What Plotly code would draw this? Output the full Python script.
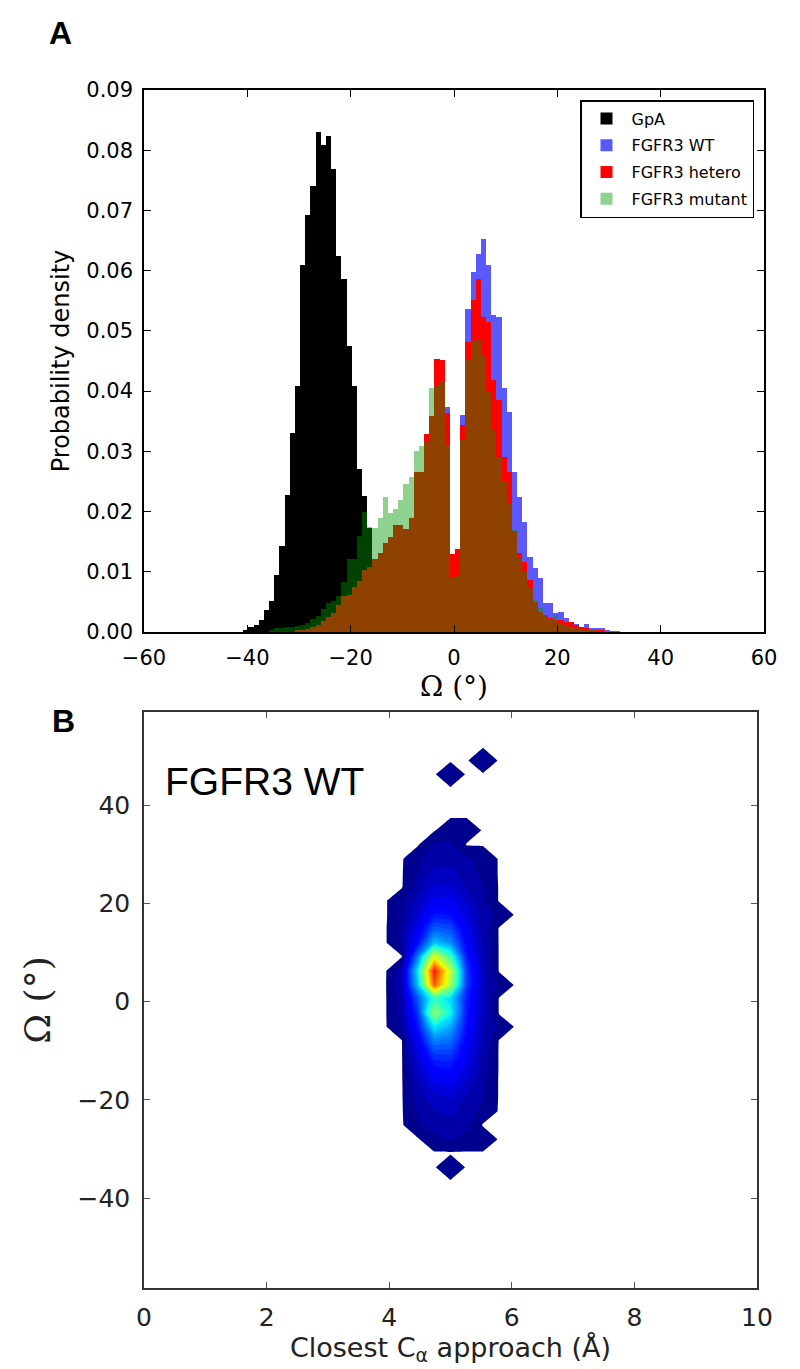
import plotly.graph_objects as go
import numpy as np

W, H = 800, 1369
PAGE_OFFSET = 8  # default body margin of the html page

# ---------------- Panel A: histogram data (probability density per 1-degree bin) ----------------
gpa_centers = [-40.3, -39.3, -38.3, -37.3, -36.3, -35.3, -34.3, -33.3, -32.3, -31.3,
               -30.3, -29.3, -28.3, -27.3, -26.3, -25.3, -24.3, -23.3, -22.3, -21.3,
               -20.3, -19.3, -18.3, -17.3, -16.3, -15.3, -14.3, -13.3, -12.3, -11.3, -10.3]
gpa_density = [0.0004, 0.0008, 0.0012, 0.0020, 0.0036, 0.0052, 0.0094, 0.0143, 0.0227, 0.0330,
               0.0409, 0.0609, 0.0693, 0.0741, 0.0831, 0.0808, 0.0824, 0.0768, 0.0624, 0.0587,
               0.0475, 0.0409, 0.0270, 0.0226, 0.0172, 0.0120, 0.0080, 0.0050, 0.0030, 0.0018, 0.0010]

fgfr3_centers = [-35.3, -34.3, -33.3, -32.3, -31.3, -30.3, -29.3, -28.3, -27.3, -26.3,
                 -25.3, -24.3, -23.3, -22.3, -21.3, -20.3, -19.3, -18.3, -17.3, -16.3,
                 -15.3, -14.3, -13.3, -12.3, -11.3, -10.3, -9.3, -8.3, -7.3, -6.3,
                 -5.3, -4.3, -3.3, -2.3, -1.3, -0.3, 0.7, 1.7, 2.7, 3.7,
                 4.7, 5.7, 6.7, 7.7, 8.7, 9.7, 10.7, 11.7, 12.7, 13.7,
                 14.7, 15.7, 16.7, 17.7, 18.7, 19.7, 20.7, 21.7, 22.7, 23.7,
                 24.7, 25.7, 26.7, 27.7, 28.7, 29.7, 30.7, 31.7]
wt_density = [0, 0, 0, 0, 0, 0.0001, 0.0002, 0.0003, 0.0006, 0.0010,
              0.0015, 0.0021, 0.0028, 0.0040, 0.0052, 0.0058, 0.0070, 0.0080, 0.0095, 0.0102,
              0.0115, 0.0125, 0.0140, 0.0150, 0.0168, 0.0170, 0.0165, 0.0182, 0.0255, 0.0258,
              0.0318, 0.0345, 0.0430, 0.0440, 0.0374, 0.0100, 0.0110, 0.0361, 0.0537, 0.0597,
              0.0628, 0.0652, 0.0609, 0.0527, 0.0523, 0.0405, 0.0366, 0.0266, 0.0225, 0.0182,
              0.0124, 0.0107, 0.0089, 0.0048, 0.0048, 0.0031, 0.0033, 0.0023, 0.0014, 0.0014,
              0.0009, 0.0013, 0.0006, 0.0007, 0.0006, 0.0003, 0.0002, 0.0002]
hetero_density = [0, 0, 0, 0, 0, 0.0003, 0.0004, 0.0005, 0.0008, 0.0012,
                  0.0018, 0.0025, 0.0031, 0.0045, 0.0059, 0.0062, 0.0075, 0.0084, 0.0103, 0.0108,
                  0.0121, 0.0132, 0.0147, 0.0158, 0.0178, 0.0178, 0.0171, 0.0190, 0.0266, 0.0266,
                  0.0329, 0.0358, 0.0453, 0.0452, 0.0364, 0.0129, 0.0138, 0.0343, 0.0482, 0.0551,
                  0.0587, 0.0523, 0.0514, 0.0418, 0.0385, 0.0291, 0.0266, 0.0167, 0.0131, 0.0117,
                  0.0086, 0.0050, 0.0034, 0.0028, 0.0023, 0.0020, 0.0020, 0.0017, 0.0017, 0.0012,
                  0.0009, 0.0006, 0.0004, 0.0003, 0.0002, 0, 0, 0]
mutant_density = [0.0004, 0.0007, 0.0007, 0.0008, 0.0009, 0.0010, 0.0012, 0.0015, 0.0021, 0.0027,
                  0.0039, 0.0048, 0.0052, 0.0059, 0.0083, 0.0122, 0.0122, 0.0160, 0.0199, 0.0175,
                  0.0172, 0.0190, 0.0225, 0.0198, 0.0205, 0.0219, 0.0245, 0.0258, 0.0300, 0.0309,
                  0.0316, 0.0406, 0.0410, 0.0416, 0.0311, 0.0090, 0.0095, 0.0319, 0.0451, 0.0482,
                  0.0485, 0.0460, 0.0400, 0.0335, 0.0290, 0.0250, 0.0215, 0.0170, 0.0125, 0.0100,
                  0.0075, 0.0055, 0.0040, 0.0028, 0.0022, 0.0028, 0.0014, 0.0010, 0.0008, 0.0006,
                  0.0005, 0.0004, 0.0003, 0.0002, 0, 0, 0, 0]
bin_width = 1.0

# ---------------- Panel B: 2D density grid (relative density, %) ----------------
approach_grid = [3.675, 3.94, 4.205, 4.47, 4.735, 5.0, 5.265, 5.53, 5.795, 6.06, 6.325]
omega_grid = [-36.6, -33.7, -30.8, -28.0, -25.1, -22.3, -19.4, -16.6, -13.7, -10.8,
              -8.0, -5.1, -2.3, 0.6, 3.4, 6.3, 9.2, 12.0, 14.9, 17.7,
              20.6, 23.4, 26.3, 29.1, 32.0, 34.9, 37.7, 40.6, 43.4, 46.3,
              49.1, 52.0]
density_grid = [
    [0, 0, 0, 0, 0, 0, 0, 0, 0, 0, 0],
    [0, 0, 0, 0, 0, 2, 0, 0, 0, 0, 0],
    [0, 0, 0, 0, 0, 0, 0, 0, 0, 0, 0],
    [0, 0, 0, 0, 2, 3, 2, 2, 0, 0, 0],
    [0, 0, 0, 2, 4, 4, 3, 0, 0, 0, 0],
    [0, 0, 0, 3, 5, 6, 4, 2, 0, 0, 0],
    [0, 0, 0, 4, 7, 8, 5, 3, 0, 0, 0],
    [0, 0, 0, 5, 10, 11, 7, 3, 0, 0, 0],
    [0, 0, 0, 7, 14, 15, 9, 4, 0, 0, 0],
    [0, 0, 0, 9, 20, 20, 11, 4, 0, 0, 0],
    [0, 0, 0, 12, 28, 26, 13, 5, 0, 0, 0],
    [0, 0, 3, 16, 40, 33, 15, 5, 2, 0, 0],
    [0, 0, 4, 20, 60, 42, 16, 6, 0, 0, 0],
    [0, 0, 4, 24, 46, 38, 17, 6, 0, 0, 0],
    [0, 0, 5, 36, 92, 62, 20, 6, 2, 0, 0],
    [0, 0, 4, 40, 100, 66, 20, 6, 0, 0, 0],
    [0, 0, 0, 28, 70, 48, 16, 5, 0, 0, 0],
    [0, 0, 3, 15, 36, 30, 13, 5, 0, 0, 0],
    [0, 0, 3, 11, 24, 22, 11, 4, 0, 0, 0],
    [0, 0, 2, 8, 16, 15, 9, 4, 2, 0, 0],
    [0, 0, 2, 6, 11, 11, 7, 3, 0, 0, 0],
    [0, 0, 0, 4, 8, 8, 5, 3, 0, 0, 0],
    [0, 0, 0, 3, 6, 6, 4, 2, 0, 0, 0],
    [0, 0, 0, 2, 4, 4, 3, 2, 0, 0, 0],
    [0, 0, 0, 0, 3, 3, 0, 0, 0, 0, 0],
    [0, 0, 0, 0, 0, 2, 2, 0, 0, 0, 0],
    [0, 0, 0, 0, 0, 0, 0, 0, 0, 0, 0],
    [0, 0, 0, 0, 0, 0, 0, 0, 0, 0, 0],
    [0, 0, 0, 0, 0, 0, 0, 0, 0, 0, 0],
    [0, 0, 0, 0, 0, 2, 0, 0, 0, 0, 0],
    [0, 0, 0, 0, 0, 0, 0, 2, 0, 0, 0],
    [0, 0, 0, 0, 0, 0, 0, 0, 0, 0, 0],
]

xa_ticks = [-60, -40, -20, 0, 20, 40, 60]
ya_ticks = [0.0, 0.01, 0.02, 0.03, 0.04, 0.05, 0.06, 0.07, 0.08, 0.09]
xb_ticks = [0, 2, 4, 6, 8, 10]
yb_ticks = [-40, -20, 0, 20, 40]


# ---------------- helpers (styling only) ----------------
def px_x(px):
    return (px - PAGE_OFFSET) / W


def px_y(py):
    return 1 - (py - PAGE_OFFSET) / H


def jet(t):
    def interp(pts, t):
        for (a, va), (b, vb) in zip(pts[:-1], pts[1:]):
            if a <= t <= b:
                return va + (vb - va) * (t - a) / (b - a)
        return pts[-1][1]
    r = interp([(0, 0), (0.35, 0), (0.66, 1), (0.89, 1), (1, 0.5)], t)
    g = interp([(0, 0), (0.125, 0), (0.375, 1), (0.64, 1), (0.91, 0), (1, 0)], t)
    b = interp([(0, 0.5), (0.11, 1), (0.34, 1), (0.65, 0), (1, 0)], t)
    return "rgb(%d,%d,%d)" % (round(r * 255), round(g * 255), round(b * 255))


c_start, c_size, n_levels = 0.2, 2.5, 40
c_end = c_start + c_size * (n_levels - 1)


def cpos(z):
    return ((z - c_start) / c_size + 0.5) / n_levels


colorscale = [[0.0, "white"], [cpos(c_start) - 1e-4, "white"]]
for z in np.linspace(c_start, c_start + (n_levels - 0.5) * c_size, 90):
    colorscale.append([cpos(z), jet(0.89 * min(z, 100) / 100)])
colorscale[-1][0] = 1.0

fig = go.Figure()

bar_specs = [
    (gpa_centers, gpa_density, "GpA", "black"),
    (fgfr3_centers, wt_density, "FGFR3 WT", "rgba(0,0,255,0.65)"),
    (fgfr3_centers, hetero_density, "FGFR3 hetero", "rgb(255,0,0)"),
    (fgfr3_centers, mutant_density, "FGFR3 mutant", "rgba(0,150,0,0.44)"),
]
for xs, ys, name, color in bar_specs:
    fig.add_trace(go.Bar(x=xs, y=ys, width=bin_width, name=name, legendgroup=name,
                         marker=dict(color=color, line=dict(width=0)),
                         xaxis="x", yaxis="y"))

fig.add_trace(go.Contour(
    x=approach_grid, y=omega_grid, z=density_grid,
    autocontour=False,
    contours=dict(start=c_start, end=c_end, size=c_size, coloring="fill", showlines=False),
    line=dict(width=0, smoothing=0),
    colorscale=colorscale, showscale=False, showlegend=False,
    hoverinfo="skip", xaxis="x2", yaxis="y2"))

axis_font = dict(family="DejaVu Sans", size=21, color="black")
b_font = dict(family="DejaVu Sans", size=25, color="#222")
fig.update_layout(
    width=W, height=H,
    margin=dict(l=0, r=0, t=0, b=0),
    paper_bgcolor="white", plot_bgcolor="white",
    barmode="overlay", bargap=0,
    font=dict(family="DejaVu Sans", color="black"),
    legend=dict(x=px_x(754), xanchor="right", y=px_y(100), yanchor="top",
                bgcolor="white", bordercolor="black", borderwidth=1.5,
                font=dict(family="DejaVu Sans", size=16, color="black"),
                tracegroupgap=3, itemwidth=40),
    xaxis=dict(domain=[px_x(144), px_x(764)], anchor="y", range=[-60, 60], automargin=False,
               tickvals=xa_ticks, ticks="inside", ticklen=7, tickcolor="black",
               showline=True, linecolor="black", linewidth=1.5, mirror="ticks",
               showgrid=False, zeroline=False, tickfont=axis_font, ticklabelstandoff=6,
               title=dict(text="Ω (°)", font=dict(family="DejaVu Serif", size=28), standoff=4)),
    yaxis=dict(domain=[px_y(632), px_y(90)], anchor="x", range=[0, 0.09], automargin=False,
               tickvals=ya_ticks, tickformat=".2f", ticks="inside", ticklen=7, tickcolor="black",
               showline=True, linecolor="black", linewidth=1.5, mirror="ticks",
               showgrid=False, zeroline=False, tickfont=axis_font, ticklabelstandoff=5,
               title=dict(text="Probability density", font=dict(family="DejaVu Sans", size=24), standoff=10)),
    xaxis2=dict(domain=[px_x(144), px_x(757)], anchor="y2", range=[0, 10], automargin=False,
                tickvals=xb_ticks, ticks="inside", ticklen=6, tickcolor="#555",
                showline=True, linecolor="#333", linewidth=1.5, mirror="ticks",
                showgrid=False, zeroline=False, tickfont=b_font, ticklabelstandoff=6,
                title=dict(text="Closest C<sub>α</sub> approach (Å)",
                           font=dict(family="DejaVu Sans", size=27, color="#222"), standoff=6)),
    yaxis2=dict(domain=[px_y(1288), px_y(712)], anchor="x2", range=[-58.3, 59], automargin=False,
                tickvals=yb_ticks, ticks="inside", ticklen=6, tickcolor="#555",
                showline=True, linecolor="#333", linewidth=1.5, mirror="ticks",
                showgrid=False, zeroline=False, tickfont=b_font, ticklabelstandoff=7,
                title=dict(text="Ω (°)", font=dict(family="DejaVu Serif", size=36, color="#222"), standoff=16)),
    annotations=[
        dict(text="<b>A</b>", x=px_x(60), y=px_y(33), xref="paper", yref="paper",
             showarrow=False, xanchor="center", yanchor="middle",
             font=dict(family="Liberation Sans", size=32, color="black")),
        dict(text="<b>B</b>", x=px_x(63), y=px_y(721), xref="paper", yref="paper",
             showarrow=False, xanchor="center", yanchor="middle",
             font=dict(family="Liberation Sans", size=32, color="black")),
        dict(text="FGFR3 WT", x=px_x(163), y=px_y(781), xref="paper", yref="paper",
             showarrow=False, xanchor="left", yanchor="middle",
             font=dict(family="Liberation Sans", size=39, color="black")),
    ],
)

fig.write_html("out.html")
